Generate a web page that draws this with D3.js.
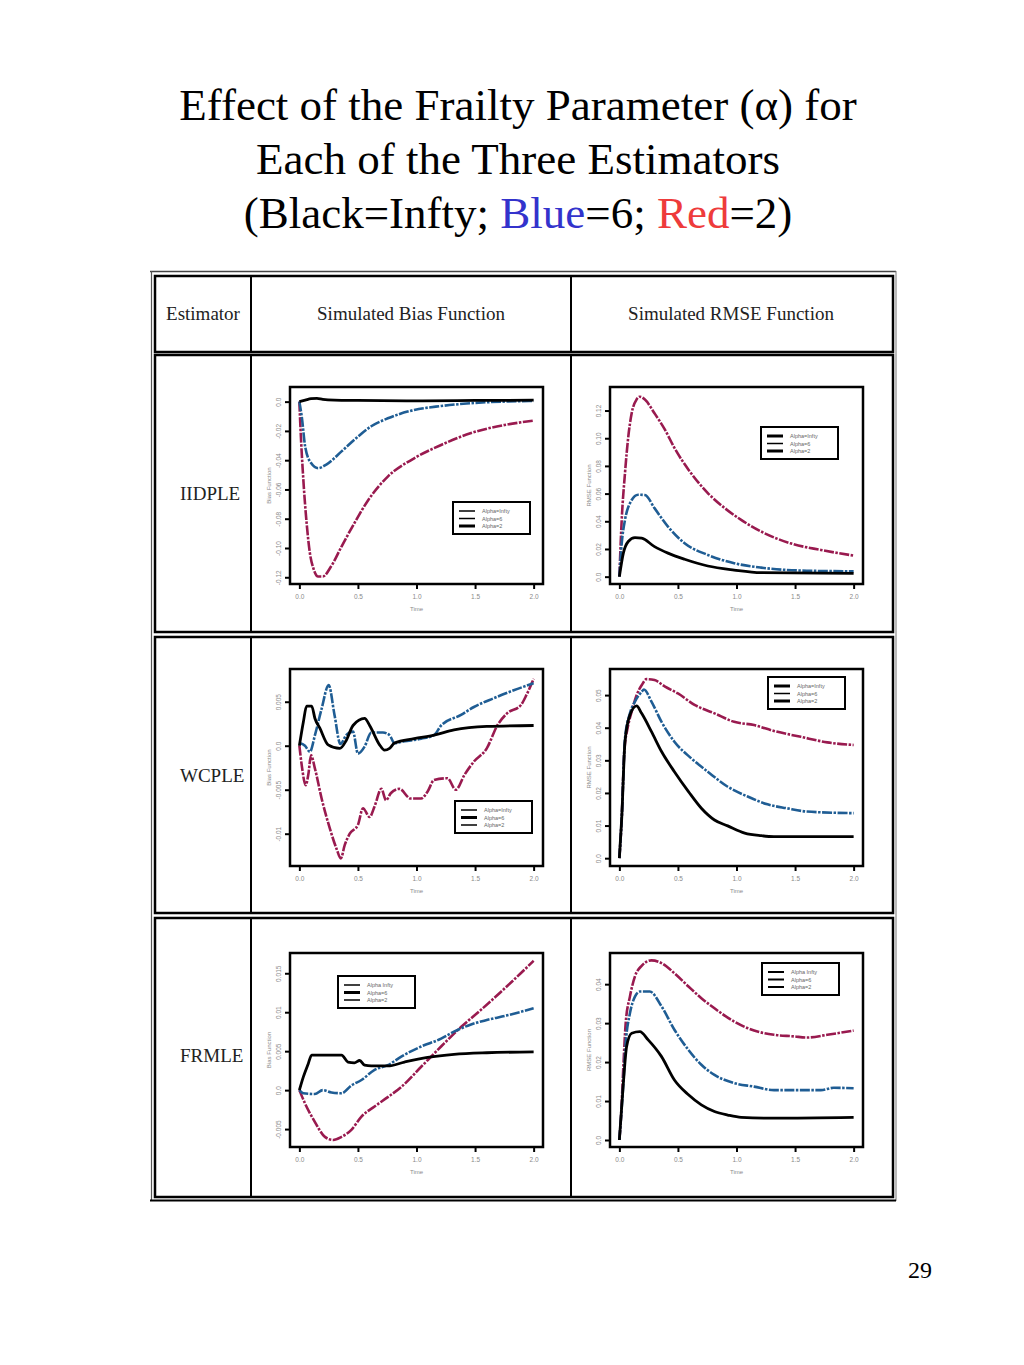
<!DOCTYPE html>
<html>
<head>
<meta charset="utf-8">
<script src="https://cdn.jsdelivr.net/npm/d3@7"></script>
<style>
body { margin: 0; background: #fff; }
</style>
</head>
<body>
<script>
// ---- values ----
var timeTicks = [0, 0.5, 1.0, 1.5, 2.0];

var iidBiasInf = [[0,0],[0.05,0.001],[0.1,0.002],[0.15,0.0022],[0.2,0.0015],[0.3,0.001],[0.5,0.0008],[1.0,0.0005],[1.5,0.0008],[2.0,0.001]];
var iidBias6 = [[0,0],[0.02,-0.010],[0.05,-0.031],[0.1,-0.042],[0.16,-0.0455],[0.23,-0.043],[0.36,-0.034],[0.47,-0.026],[0.61,-0.017],[0.755,-0.0114],[0.98,-0.0057],[1.21,-0.003],[1.46,-0.0011],[2.0,0.0005]];
var iidBias2 = [[0,0],[0.01,-0.019],[0.034,-0.0535],[0.062,-0.083],[0.09,-0.1036],[0.12,-0.114],[0.16,-0.1195],[0.2,-0.1195],[0.27,-0.1127],[0.36,-0.099],[0.47,-0.083],[0.59,-0.067],[0.755,-0.0512],[0.98,-0.0387],[1.21,-0.0296],[1.46,-0.0216],[1.75,-0.016],[2.0,-0.013]];

var iidRmseInf = [[0,0],[0.034,0.017],[0.076,0.0254],[0.133,0.0282],[0.19,0.0278],[0.3,0.0217],[0.415,0.017],[0.557,0.0126],[0.755,0.0077],[0.98,0.0048],[1.21,0.0029],[2.0,0.0024]];
var iidRmse6 = [[0,0],[0.02,0.024],[0.048,0.041],[0.09,0.053],[0.16,0.0592],[0.218,0.059],[0.3,0.0495],[0.415,0.0362],[0.557,0.0241],[0.755,0.0157],[0.98,0.0097],[1.21,0.0065],[1.6,0.0043],[2.0,0.0039]];
var iidRmse2 = [[0,0],[0.02,0.041],[0.048,0.0748],[0.076,0.101],[0.105,0.118],[0.147,0.128],[0.175,0.130],[0.218,0.1279],[0.30,0.118],[0.39,0.106],[0.47,0.093],[0.59,0.0773],[0.755,0.0604],[0.9,0.0495],[1.04,0.041],[1.21,0.0326],[1.46,0.0241],[1.72,0.0193],[2.0,0.0152]];

var wcBiasInf = [[0,0],[0.034,0.0027],[0.062,0.0045],[0.105,0.0045],[0.133,0.0031],[0.175,0.002],[0.246,0.0001],[0.345,-0.0003],[0.40,0.0006],[0.458,0.0023],[0.557,0.0031],[0.60,0.0023],[0.685,0.0001],[0.727,-0.0005],[0.77,-0.0003],[0.812,0.0003],[0.98,0.0008],[1.15,0.0012],[1.32,0.0018],[1.6,0.0022],[2.0,0.0023]];
var wcBias6 = [[0,0.0003],[0.048,0],[0.09,-0.0007],[0.133,0.0012],[0.19,0.0042],[0.25,0.0069],[0.30,0.0035],[0.35,0.0002],[0.40,0.0012],[0.458,0.0016],[0.50,-0.0009],[0.557,-0.0001],[0.614,0.0015],[0.713,0.0015],[0.77,0.0012],[0.812,0.0003],[0.897,0.0005],[1.04,0.0008],[1.15,0.0012],[1.21,0.0023],[1.38,0.0035],[1.49,0.0044],[1.66,0.0054],[1.83,0.0063],[2.0,0.0071]];
var wcBias2 = [[0,0],[0.02,-0.0022],[0.054,-0.0045],[0.076,-0.0033],[0.1,-0.0011],[0.133,-0.0026],[0.19,-0.006],[0.26,-0.0094],[0.317,-0.0117],[0.354,-0.0128],[0.387,-0.0113],[0.43,-0.01],[0.5,-0.009],[0.543,-0.0071],[0.6,-0.0081],[0.642,-0.0069],[0.7,-0.0049],[0.74,-0.0062],[0.78,-0.0054],[0.854,-0.0049],[0.95,-0.006],[1.04,-0.006],[1.095,-0.0052],[1.15,-0.0039],[1.265,-0.0037],[1.335,-0.005],[1.41,-0.0033],[1.49,-0.0018],[1.6,-0.0003],[1.69,0.0023],[1.775,0.0037],[1.89,0.0046],[1.94,0.0058],[2.0,0.0076]];

var wcRmseInf = [[0,0],[0.02,0.0122],[0.048,0.0357],[0.09,0.0439],[0.147,0.0467],[0.19,0.0444],[0.274,0.0388],[0.36,0.0327],[0.47,0.0265],[0.59,0.0204],[0.7,0.0153],[0.812,0.0117],[0.925,0.0099],[1.07,0.0077],[1.21,0.0069],[1.32,0.0066],[2.0,0.0066]];
var wcRmse6 = [[0,0],[0.02,0.0122],[0.048,0.0367],[0.09,0.0444],[0.133,0.048],[0.19,0.051],[0.21,0.0517],[0.274,0.048],[0.36,0.0418],[0.47,0.0357],[0.614,0.0306],[0.755,0.0265],[0.925,0.0219],[1.095,0.0189],[1.265,0.0165],[1.43,0.0153],[1.6,0.0143],[2.0,0.0138]];
var wcRmse2 = [[0,0],[0.02,0.0122],[0.042,0.0327],[0.07,0.0398],[0.105,0.0449],[0.147,0.05],[0.19,0.053],[0.232,0.0549],[0.30,0.0546],[0.39,0.0526],[0.5,0.0505],[0.642,0.047],[0.812,0.0444],[0.98,0.0418],[1.15,0.0408],[1.32,0.039],[1.55,0.0372],[1.775,0.0355],[2.0,0.0347]];

var frBiasInf = [[0,0],[0.034,0.0017],[0.076,0.0034],[0.105,0.0045],[0.19,0.0045],[0.36,0.0045],[0.415,0.0036],[0.47,0.0035],[0.515,0.0038],[0.557,0.0032],[0.614,0.0031],[0.755,0.0031],[0.897,0.0036],[1.095,0.0042],[1.32,0.0046],[1.6,0.0048],[2.0,0.0049]];
var frBias6 = [[0,0],[0.034,-0.0004],[0.133,-0.0005],[0.2,0],[0.274,-0.0003],[0.36,-0.0004],[0.444,0.0006],[0.53,0.0013],[0.642,0.0026],[0.755,0.0032],[0.87,0.0043],[1.04,0.0056],[1.21,0.0066],[1.32,0.0075],[1.46,0.0084],[1.6,0.009],[1.775,0.0096],[2.0,0.0105]];
var frBias2 = [[0,0],[0.048,-0.0017],[0.133,-0.0041],[0.218,-0.006],[0.29,-0.0064],[0.36,-0.006],[0.444,-0.0051],[0.53,-0.0034],[0.642,-0.0021],[0.755,-0.0009],[0.87,0.0004],[1.04,0.003],[1.21,0.0056],[1.38,0.0081],[1.55,0.0103],[1.72,0.0126],[1.89,0.015],[2.0,0.0166]];

var frRmseInf = [[0,0],[0.034,0.0146],[0.062,0.024],[0.105,0.0274],[0.175,0.0278],[0.246,0.0257],[0.36,0.0214],[0.47,0.0154],[0.59,0.0116],[0.7,0.009],[0.812,0.0073],[0.925,0.0064],[1.04,0.0058],[1.32,0.0056],[2.0,0.0058]];
var frRmse6 = [[0,0],[0.034,0.0146],[0.054,0.0248],[0.09,0.0325],[0.133,0.0368],[0.175,0.0381],[0.26,0.0381],[0.36,0.0343],[0.47,0.0283],[0.59,0.0231],[0.7,0.0193],[0.812,0.0167],[0.98,0.0146],[1.15,0.0137],[1.32,0.0128],[1.72,0.0128],[1.83,0.0134],[2.0,0.0133]];
var frRmse2 = [[0,0],[0.014,0.006],[0.034,0.0188],[0.054,0.03],[0.09,0.0368],[0.133,0.042],[0.19,0.0447],[0.274,0.0461],[0.36,0.0454],[0.47,0.0428],[0.59,0.0394],[0.7,0.0364],[0.812,0.0338],[0.98,0.0304],[1.15,0.0281],[1.32,0.027],[1.49,0.0266],[1.6,0.0263],[1.775,0.027],[2.0,0.0281]];

var iidBiasTicks = [0, -0.02, -0.04, -0.06, -0.08, -0.10, -0.12];
var iidRmseTicks = [0, 0.02, 0.04, 0.06, 0.08, 0.10, 0.12];
var wcBiasTicks = [0.005, 0, -0.005, -0.010];
var wcRmseTicks = [0, 0.01, 0.02, 0.03, 0.04, 0.05];
var frBiasTicks = [-0.005, 0, 0.005, 0.010, 0.015];
var frRmseTicks = [0, 0.01, 0.02, 0.03, 0.04];

var estimators = ["IIDPLE", "WCPLE", "FRMLE"];
var headers = ["Estimator", "Simulated Bias Function", "Simulated RMSE Function"];
var legendLabels = ["Alpha=Infty", "Alpha=6", "Alpha=2"];
var legendLabels2 = ["Alpha Infty", "Alpha=6", "Alpha=2"];

// ---- page ----
var W = 1024, H = 1365;
var serif = "'Liberation Serif', 'Times New Roman', serif";
var sans = "'Liberation Sans', Arial, sans-serif";
var red = "#991a4f", blue = "#1f5d94";

var svg = d3.select("body").append("svg")
  .attr("width", W)
  .attr("height", H);

// title
var titleLines = [
  {y: 120, text: "Effect of the Frailty Parameter (\u03b1) for"},
  {y: 174, text: "Each of the Three Estimators"}
];
titleLines.forEach(function(l) {
  svg.append("text")
    .attr("x", 518).attr("y", l.y)
    .attr("text-anchor", "middle")
    .style("font-family", serif)
    .style("font-size", "45px")
    .text(l.text);
});
var t3 = svg.append("text")
  .attr("x", 518).attr("y", 228)
  .attr("text-anchor", "middle")
  .style("font-family", serif)
  .style("font-size", "45px");
t3.append("tspan").text("(Black=Infty; ");
t3.append("tspan").attr("fill", "#3333cc").text("Blue");
t3.append("tspan").text("=6; ");
t3.append("tspan").attr("fill", "#ee3b3b").text("Red");
t3.append("tspan").text("=2)");

svg.append("text")
  .attr("x", 932).attr("y", 1278)
  .attr("text-anchor", "end")
  .style("font-family", serif)
  .style("font-size", "24px")
  .text("29");

// table
var rowsY = [[276, 352], [355, 632], [637, 913], [918, 1197]];
var colX = [155, 251, 571, 893];
var table = svg.append("g");
table.append("line").attr("x1", 150).attr("x2", 896).attr("y1", 271.5).attr("y2", 271.5)
  .attr("stroke", "#444").attr("stroke-width", 1.5);
table.append("line").attr("x1", 151.5).attr("x2", 151.5).attr("y1", 271).attr("y2", 1201)
  .attr("stroke", "#555").attr("stroke-width", 1.2);
table.append("line").attr("x1", 896).attr("x2", 896).attr("y1", 271).attr("y2", 1201)
  .attr("stroke", "#777").attr("stroke-width", 1);
table.append("line").attr("x1", 150).attr("x2", 896).attr("y1", 1200.5).attr("y2", 1200.5)
  .attr("stroke", "#000").attr("stroke-width", 2);
rowsY.forEach(function(r) {
  table.append("rect")
    .attr("x", colX[0]).attr("y", r[0])
    .attr("width", colX[3] - colX[0]).attr("height", r[1] - r[0])
    .attr("fill", "none").attr("stroke", "#000").attr("stroke-width", 2.5);
  [colX[1], colX[2]].forEach(function(cx) {
    table.append("line").attr("x1", cx).attr("x2", cx).attr("y1", r[0]).attr("y2", r[1])
      .attr("stroke", "#000").attr("stroke-width", 2);
  });
});

var headerX = [203, 411, 731];
headers.forEach(function(h, i) {
  svg.append("text")
    .attr("x", headerX[i]).attr("y", 320)
    .attr("text-anchor", "middle")
    .attr("fill", "#222")
    .style("font-family", serif)
    .style("font-size", "19px")
    .text(h);
});

var rowLabelY = [500, 782, 1062];
estimators.forEach(function(e, i) {
  svg.append("text")
    .attr("x", 180).attr("y", rowLabelY[i])
    .attr("fill", "#222")
    .style("font-family", serif)
    .style("font-size", "19px")
    .text(e);
});

// ---- panels ----
var colBox = [[290, 543], [610, 863]];
var rowBox = [[387, 584], [669, 866], [953, 1147]];

function fmtTick(d) {
  if (d === 0) return "0.0";
  var s = d3.format(".3f")(Math.abs(d));
  if (Math.abs(d) >= 0.01 && Math.abs(d * 100 - Math.round(d * 100)) < 1e-9) s = d3.format(".2f")(Math.abs(d));
  return (d < 0 ? "-" : "") + s;
}

function panel(p) {
  var x0 = colBox[p.col][0], x1 = colBox[p.col][1];
  var y0 = rowBox[p.row][0], y1 = rowBox[p.row][1];
  var x = d3.scaleLinear().domain([-0.08, 2.08]).range([x0, x1]);
  var y = d3.scaleLinear().domain(p.yDomain).range([y1, y0]);
  var g = svg.append("g");

  var line = d3.line()
    .curve(d3.curveMonotoneX)
    .x(function(d) { return x(d[0]); })
    .y(function(d) { return y(d[1]); });

  var series = [
    {data: p.red, color: red, w: 2.6, dash: "10,1.5,2.5,1.5"},
    {data: p.blue, color: blue, w: 2.6, dash: "10,1.5,2.5,1.5"},
    {data: p.black, color: "#000", w: 2.8, dash: null}
  ];
  series.forEach(function(s) {
    g.append("path").datum(s.data)
      .attr("d", line)
      .attr("fill", "none")
      .attr("stroke", s.color)
      .attr("stroke-width", s.w)
      .attr("stroke-dasharray", s.dash);
  });

  g.append("rect")
    .attr("x", x0).attr("y", y0)
    .attr("width", x1 - x0).attr("height", y1 - y0)
    .attr("fill", "none").attr("stroke", "#000").attr("stroke-width", 2.5);

  var xAxis = g.append("g")
    .attr("transform", "translate(0," + (y1 + 1) + ")")
    .call(d3.axisBottom(x).tickValues(timeTicks).tickSize(4).tickPadding(5).tickFormat(d3.format(".1f")));
  var yAxis = g.append("g")
    .attr("transform", "translate(" + (x0 - 1) + ",0)")
    .call(d3.axisLeft(y).tickValues(p.ticks).tickSize(4).tickFormat(fmtTick));
  [xAxis, yAxis].forEach(function(a) {
    a.select(".domain").remove();
    a.selectAll(".tick line").attr("stroke", "#000").attr("stroke-width", 2);
    a.selectAll("text").attr("fill", "#8a8a8a").style("font-family", sans).style("font-size", "6.5px");
  });
  yAxis.selectAll("text")
    .attr("x", 0).attr("y", -8).attr("dy", 0)
    .attr("text-anchor", "middle")
    .attr("transform", "rotate(-90)");

  g.append("text")
    .attr("x", (x0 + x1) / 2).attr("y", y1 + 27)
    .attr("text-anchor", "middle")
    .attr("fill", "#8a8a8a")
    .style("font-family", sans).style("font-size", "6px")
    .text("Time");
  g.append("text")
    .attr("transform", "translate(" + (x0 - 19) + "," + ((y0 + y1) / 2) + ") rotate(-90)")
    .attr("text-anchor", "middle")
    .attr("fill", "#8a8a8a")
    .style("font-family", sans).style("font-size", "6px")
    .text(p.col === 0 ? "Bias Function" : "RMSE Function");

  // legend
  var lg = g.append("g").attr("transform", "translate(" + p.legend[0] + "," + p.legend[1] + ")");
  lg.append("rect").attr("width", 77).attr("height", 32)
    .attr("fill", "#fff").attr("stroke", "#000").attr("stroke-width", 2);
  p.labels.forEach(function(l, i) {
    lg.append("line").attr("x1", 6).attr("x2", 22)
      .attr("y1", 9 + i * 7.5).attr("y2", 9 + i * 7.5)
      .attr("stroke", "#000").attr("stroke-width", p.lw[i]);
    lg.append("text").attr("x", 29).attr("y", 11 + i * 7.5)
      .attr("fill", "#666")
      .style("font-family", sans).style("font-size", "5.5px")
      .text(l);
  });
}

panel({row: 0, col: 0, yDomain: [-0.1246, 0.0100], ticks: iidBiasTicks,
  red: iidBias2, blue: iidBias6, black: iidBiasInf,
  legend: [453, 502], labels: legendLabels, lw: [1.5, 1.5, 3]});
panel({row: 0, col: 1, yDomain: [-0.0053, 0.137], ticks: iidRmseTicks,
  red: iidRmse2, blue: iidRmse6, black: iidRmseInf,
  legend: [761, 427], labels: legendLabels, lw: [3, 1.5, 3]});
panel({row: 1, col: 0, yDomain: [-0.01367, 0.00872], ticks: wcBiasTicks,
  red: wcBias2, blue: wcBias6, black: wcBiasInf,
  legend: [455, 801], labels: legendLabels, lw: [1.5, 3, 1.5]});
panel({row: 1, col: 1, yDomain: [-0.0024, 0.058], ticks: wcRmseTicks,
  red: wcRmse2, blue: wcRmse6, black: wcRmseInf,
  legend: [768, 677], labels: legendLabels, lw: [3, 1.5, 3]});
panel({row: 2, col: 0, yDomain: [-0.0073, 0.0176], ticks: frBiasTicks,
  red: frBias2, blue: frBias6, black: frBiasInf,
  legend: [338, 976], labels: legendLabels2, lw: [1.5, 3, 1.5]});
panel({row: 2, col: 1, yDomain: [-0.0018, 0.048], ticks: frRmseTicks,
  red: frRmse2, blue: frRmse6, black: frRmseInf,
  legend: [762, 963], labels: legendLabels2, lw: [2, 2, 2]});
</script>
</body>
</html>
